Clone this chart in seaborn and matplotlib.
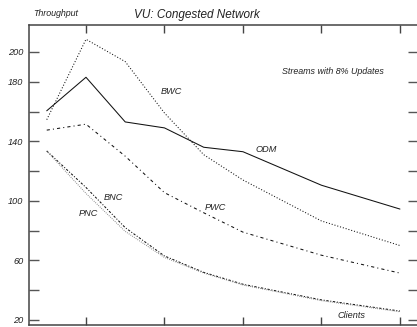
import matplotlib
matplotlib.use("Agg")
import matplotlib.pyplot as plt
import seaborn as sns
import pandas as pd

# Throughput versus number of clients, congested network
clients = [1, 2, 3, 4, 5, 6, 8, 10]
odm = [160.5, 183.0, 153.0, 149.0, 136.0, 133.0, 110.5, 94.5]
bwc = [154.5, 208.5, 193.5, 159.0, 131.0, 114.0, 86.5, 70.0]
pwc = [147.5, 151.5, 130.0, 105.5, 92.0, 79.0, 63.5, 51.5]
bnc = [133.5, 109.0, 82.0, 63.0, 52.0, 44.0, 33.5, 26.0]
pnc = [133.5, 105.0, 79.5, 62.0, 51.5, 43.5, 33.0, 25.5]

series_names = ["ODM", "BWC", "PWC", "BNC", "PNC"]
series_values = [odm, bwc, pwc, bnc, pnc]

y_ticks = [20, 40, 60, 80, 100, 120, 140, 160, 180, 200]
y_labels = ["20", "", "60", "", "100", "", "140", "", "180", "200"]
x_ticks = [2, 4, 6, 8, 10]

rows = []
for name, vals in zip(series_names, series_values):
    for c, v in zip(clients, vals):
        rows.append({"clients": c, "throughput": v, "series": name})
df = pd.DataFrame(rows)

sns.set_style("ticks")
plt.rcParams["font.family"] = ["Liberation Sans", "DejaVu Sans"]

W, H = 417, 327
fig = plt.figure(figsize=(W / 100, H / 100), dpi=100)
# axes frame: left spine at x=29px, right just past the edge, top 25px, bottom 325px
ax = fig.add_axes([29 / W, 1 - 325 / H, 389 / W, 300 / H])

palette = {"ODM": "#111111", "BWC": "#111111", "PWC": "#111111",
           "BNC": "#111111", "PNC": "#808080"}
dashes = {"ODM": "", "BWC": (1.0, 1.8), "PWC": (3.0, 3.0, 1.0, 3.0),
          "BNC": (2.2, 1.6, 1.0, 1.6), "PNC": (0.8, 1.2)}

sns.lineplot(data=df, x="clients", y="throughput", hue="series", style="series",
             palette=palette, dashes=dashes, legend=False, linewidth=0.75,
             sort=False, ax=ax)

ax.set_xlim(0.548, 10.46)
ax.set_ylim(16.64, 218.1)
ax.set_xlabel("")
ax.set_ylabel("")

ax.set_xticks(x_ticks)
ax.set_xticklabels([])
ax.set_yticks(y_ticks)
ax.set_yticklabels(y_labels, fontsize=6.6, style="italic", color="#222222")

ax.tick_params(axis="x", direction="in", length=5.8, width=1.0, color="#444444",
               top=True, bottom=True, labelbottom=False)
ax.tick_params(axis="y", direction="in", length=7.0, width=1.0, color="#555555",
               left=True, right=True, pad=4)

for side in ["left", "bottom", "top", "right"]:
    ax.spines[side].set_color("#444444")
    ax.spines[side].set_linewidth(1.1)

def px(x, y):
    return x / W, 1 - y / H

txt = dict(style="italic", color="#222222")
fig.text(*px(197, 15), "VU: Congested Network", fontsize=8.5, ha="center", va="center", **txt)
fig.text(*px(33, 14), "Throughput", fontsize=6.4, ha="left", va="center", **txt)
fig.text(*px(282, 72), "Streams with 8% Updates", fontsize=6.4, ha="left", va="center", **txt)
fig.text(*px(161, 92), "BWC", fontsize=6.6, ha="left", va="center", **txt)
fig.text(*px(255, 149), "ODM", fontsize=6.6, ha="left", va="center", **txt)
fig.text(*px(205, 207), "PWC", fontsize=6.6, ha="left", va="center", **txt)
fig.text(*px(104, 198), "BNC", fontsize=6.6, ha="left", va="center", **txt)
fig.text(*px(79, 213), "PNC", fontsize=6.6, ha="left", va="center", **txt)
fig.text(*px(338, 316), "Clients", fontsize=6.6, ha="left", va="center", **txt)

fig.savefig("out.png", dpi=100)
